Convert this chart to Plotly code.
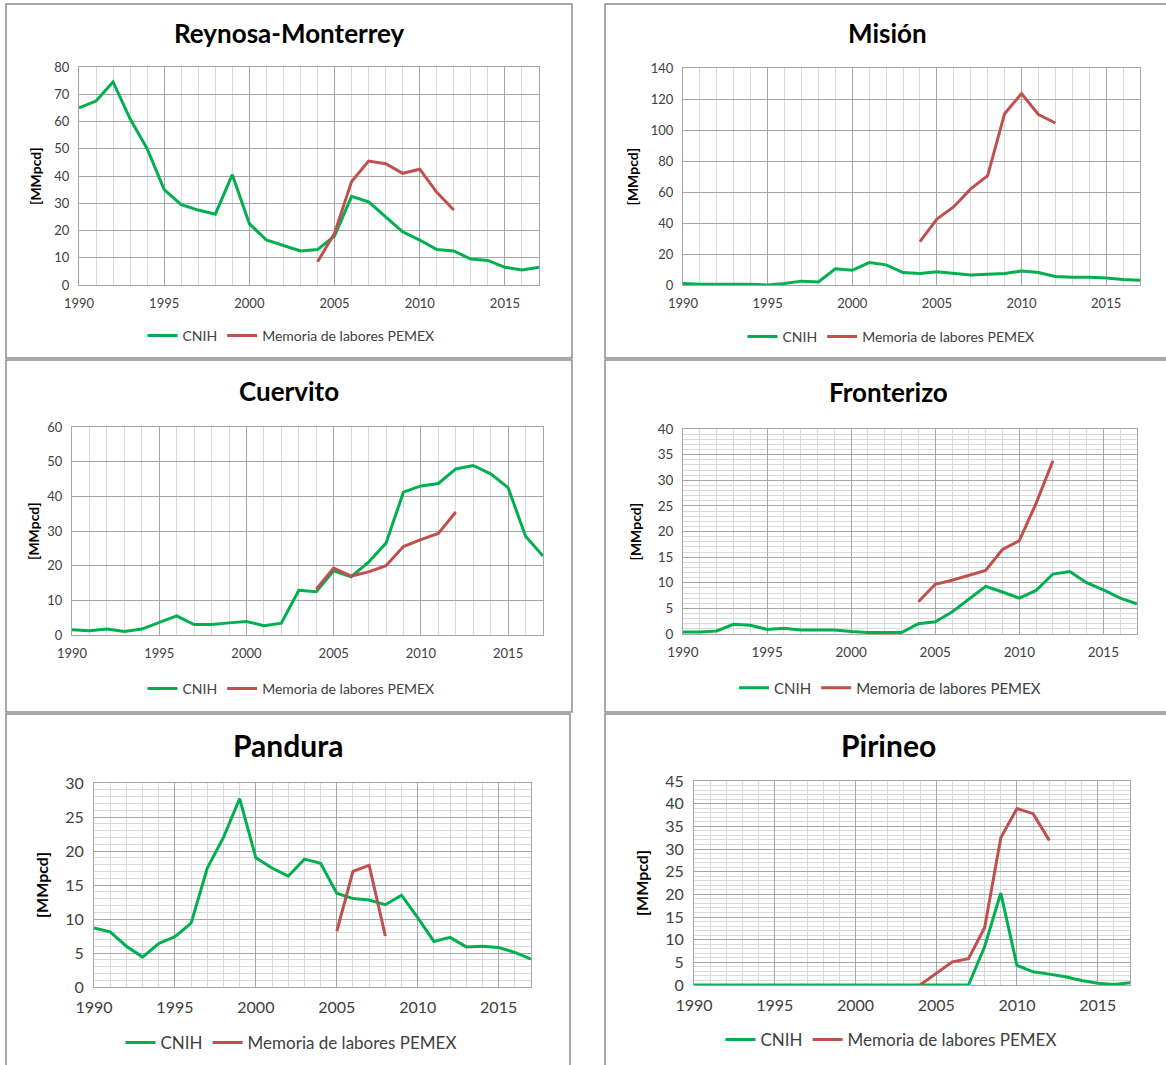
import plotly.graph_objects as go

W, H = 1166, 1065

years = list(range(1990, 2018))
pemex_years = list(range(2004, 2013))
pandura_pemex_years = list(range(2005, 2009))

titles = ["Reynosa-Monterrey", "Misión", "Cuervito", "Fronterizo", "Pandura", "Pirineo"]

reynosa_cnih = [65, 67.5, 74.5, 61, 50, 35, 29.5, 27.5, 26, 40.5, 22.5, 16.5, 14.5, 12.5,
                13, 18, 32.5, 30.5, 25, 19.5, 16.5, 13, 12.5, 9.5, 9, 6.5, 5.5, 6.5]
reynosa_pemex = [8.5, 19, 38, 45.5, 44.5, 41, 42.5, 34, 27.5]

mision_cnih = [1, 0.5, 0.5, 0.5, 0.5, 0, 1, 2.5, 2, 10.5, 9.5, 14.5, 13, 8,
               7.5, 8.5, 7.5, 6.5, 7, 7.5, 9, 8, 5.5, 5, 5, 4.5, 3.5, 3]
mision_pemex = [28, 42.5, 50.5, 62, 70.5, 110.5, 123.5, 110, 104.5]

cuervito_cnih = [1.5, 1.2, 1.7, 1, 1.7, 3.7, 5.5, 3, 3, 3.5, 3.9, 2.7, 3.4, 12.9,
                 12.5, 18.5, 16.8, 21, 26.5, 41.2, 43, 43.7, 47.9, 48.9, 46.5, 42.5, 28.5, 22.8]
cuervito_pemex = [13.2, 19.3, 17, 18.2, 20, 25.5, 27.5, 29.3, 35.5]

fronterizo_cnih = [0.4, 0.4, 0.6, 1.9, 1.7, 0.9, 1.1, 0.8, 0.8, 0.8, 0.5, 0.3, 0.3, 0.3,
                   2, 2.4, 4.3, 6.8, 9.3, 8.2, 7, 8.5, 11.7, 12.2, 10, 8.6, 7, 5.9]
fronterizo_pemex = [6.3, 9.7, 10.5, 11.4, 12.4, 16.5, 18.2, 25.5, 33.8]

pandura_cnih = [8.7, 8.1, 6, 4.4, 6.4, 7.4, 9.4, 17.5, 22, 27.7, 19, 17.5, 16.3, 18.8,
                18.2, 13.8, 13, 12.8, 12.1, 13.5, 10.2, 6.7, 7.3, 5.9, 6, 5.8, 5.1, 4.1]
pandura_pemex = [8.2, 17, 17.9, 7.5]

pirineo_cnih = [0, 0, 0, 0, 0, 0, 0, 0, 0, 0, 0, 0, 0, 0,
                0, 0, 0, 0, 8.5, 20.3, 4.3, 2.9, 2.4, 1.8, 1, 0.4, 0.1, 0.5]
pirineo_pemex = [0, 2.5, 5.1, 5.8, 12.7, 32.5, 38.9, 37.8, 31.9]

cnih_series = [reynosa_cnih, mision_cnih, cuervito_cnih, fronterizo_cnih, pandura_cnih, pirineo_cnih]
pemex_series = [reynosa_pemex, mision_pemex, cuervito_pemex, fronterizo_pemex, pandura_pemex, pirineo_pemex]
pemex_x = [pemex_years, pemex_years, pemex_years, pemex_years, pandura_pemex_years, pemex_years]

y_max = [80, 140, 60, 40, 30, 45]
y_dtick = [10, 20, 10, 5, 5, 5]
y_minor = [None, None, None, 1, 1, 1]

# layout in pixels (left, right, top, bottom) of plot areas
plot_px = [
    (79, 539, 67, 285),
    (683, 1140, 68, 285),
    (72, 543, 427, 635),
    (683, 1137, 429, 634),
    (94, 531, 783, 987),
    (694, 1130, 781, 985),
]
boxes = [
    (6, 572, 4, 358),
    (605, 1170, 4, 358),
    (6, 572, 360, 712),
    (605, 1170, 360, 712),
    (6, 570, 714, 1070),
    (605, 1170, 714, 1070),
]
title_pos = [(289, 33), (887, 33), (289, 391), (888, 392), (288, 745), (888, 745)]
ytitle_x = [36, 632, 33, 635, 41, 641]
legend_pos = [(291, 336), (891, 337), (291, 689), (890, 688), (291, 1043), (891, 1040)]
tick_size = [13, 13, 13, 13.5, 16, 16]
legend_size = [14, 14, 14, 15, 17, 17]
title_size = [26, 26, 26, 26, 30, 30]
ytitle_size = [14, 14, 14, 14, 16, 16]

GREEN = "#00b050"
RED = "#c0504d"
FONT = "Lato"


def px(x):
    return x / W


def py(y):
    return 1 - y / H


fig = go.Figure()
layout = dict(
    width=W, height=H,
    margin=dict(l=0, r=0, t=0, b=0, autoexpand=False),
    paper_bgcolor="white", plot_bgcolor="white",
    font=dict(family=FONT, color="#404040"),
    annotations=[], shapes=[],
)

for i in range(6):
    n = i + 1
    xa = "x" if n == 1 else f"x{n}"
    ya = "y" if n == 1 else f"y{n}"
    lg = "legend" if n == 1 else f"legend{n}"
    fig.add_trace(go.Scatter(x=years, y=cnih_series[i], mode="lines", name="CNIH",
                             line=dict(color=GREEN, width=3), xaxis=xa, yaxis=ya, legend=lg))
    fig.add_trace(go.Scatter(x=pemex_x[i], y=pemex_series[i], mode="lines",
                             name="Memoria de labores PEMEX",
                             line=dict(color=RED, width=3), xaxis=xa, yaxis=ya, legend=lg))
    l, r, t, b = plot_px[i]
    xkey = "xaxis" if n == 1 else f"xaxis{n}"
    ykey = "yaxis" if n == 1 else f"yaxis{n}"
    layout[xkey] = dict(
        domain=[px(l), px(r)], anchor=ya, range=[1990, 2017], automargin=False,
        tick0=1990, dtick=5, showgrid=True, gridcolor="#a6a6a6", gridwidth=1,
        minor=dict(dtick=1, tick0=1990, showgrid=True, gridcolor="#d9d9d9", gridwidth=1),
        showline=True, linecolor="#a6a6a6", mirror=True, zeroline=False,
        ticks="", tickfont=dict(size=tick_size[i], color="#404040", family=FONT),
        ticklabelstandoff=6, fixedrange=True,
    )
    ydict = dict(
        domain=[py(b), py(t)], anchor=xa, range=[0, y_max[i]], automargin=False,
        tick0=0, dtick=y_dtick[i], showgrid=True, gridcolor="#a6a6a6", gridwidth=1,
        showline=True, linecolor="#a6a6a6", mirror=True, zeroline=False,
        ticks="", tickfont=dict(size=tick_size[i], color="#404040", family=FONT),
        ticklabelstandoff=6, fixedrange=True,
    )
    if y_minor[i]:
        ydict["minor"] = dict(dtick=y_minor[i], tick0=0, showgrid=True, gridcolor="#d9d9d9", gridwidth=1)
    layout[ykey] = ydict

    lx, ly = legend_pos[i]
    layout[lg] = dict(
        x=px(lx), y=py(ly), xanchor="center", yanchor="middle", orientation="h",
        font=dict(size=legend_size[i], color="#404040", family=FONT),
        bgcolor="rgba(0,0,0,0)", itemwidth=30, tracegroupgap=0,
    )

    tx, ty = title_pos[i]
    layout["annotations"].append(dict(
        x=px(tx), y=py(ty), xref="paper", yref="paper", text=f"<b>{titles[i]}</b>",
        showarrow=False, xanchor="center", yanchor="middle",
        font=dict(size=title_size[i], color="black", family=FONT)))
    layout["annotations"].append(dict(
        x=px(ytitle_x[i]), y=py((t + b) / 2), xref="paper", yref="paper", text="<b>[MMpcd]</b>",
        showarrow=False, xanchor="center", yanchor="middle", textangle=-90,
        font=dict(size=ytitle_size[i], color="black", family=FONT)))

    bl, br, bt, bb = boxes[i]
    layout["shapes"].append(dict(type="rect", xref="paper", yref="paper",
                                 x0=px(bl), x1=px(br), y0=py(bb), y1=py(bt),
                                 line=dict(color="#8c8c8c", width=1.5), fillcolor="rgba(0,0,0,0)"))

fig.update_layout(**layout)
fig.write_html("out.html")
